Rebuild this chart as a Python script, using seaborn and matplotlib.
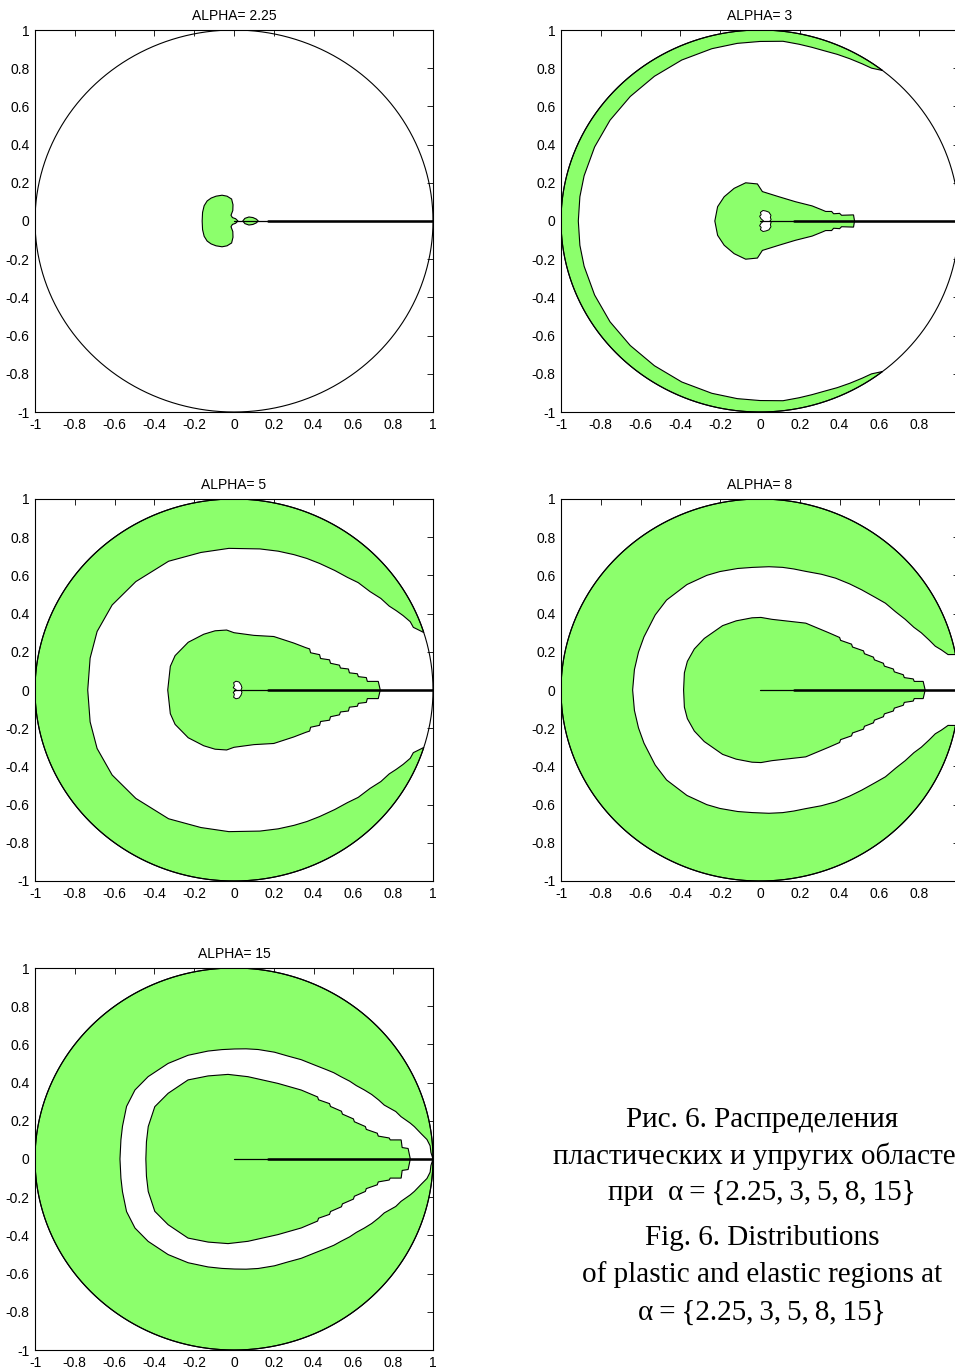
import numpy as np
import matplotlib
matplotlib.use("Agg")
import matplotlib.pyplot as plt
import seaborn as sns

# ---------------- data ----------------
ALPHAS = ["2.25", "3", "5", "8", "15"]
TICK_VALUES = [-1, -0.8, -0.6, -0.4, -0.2, 0, 0.2, 0.4, 0.6, 0.8, 1]
TICK_LABELS = ["-1", "-0.8", "-0.6", "-0.4", "-0.2", "0", "0.2", "0.4", "0.6", "0.8", "1"]

# outer plastic ring: inner boundary in polar form (deg, radius), upper half
RING3_ANG = [52, 55, 58, 62, 66, 70, 74, 78, 83, 90, 97, 105, 115, 125, 135, 145, 155, 165, 172, 180]
RING3_RAD = [1.0, 0.977, 0.970, 0.962, 0.955, 0.948, 0.946, 0.946, 0.948, 0.940, 0.937, 0.934, 0.930, 0.925, 0.922, 0.920, 0.917, 0.915, 0.914, 0.913]
RING5_ANG = [17.5, 19, 20, 22, 24.6, 27, 29.4, 33, 37, 42, 46, 51, 57, 62, 67, 73, 80, 92, 103, 116, 131, 144, 156, 167, 180]
RING5_RAD = [1.0, 0.975, 0.959, 0.955, 0.935, 0.915, 0.895, 0.880, 0.856, 0.840, 0.820, 0.805, 0.790, 0.780, 0.770, 0.760, 0.750, 0.742, 0.739, 0.750, 0.752, 0.757, 0.753, 0.742, 0.735]
RING8_ANG = [10.7, 11.1, 13, 14.6, 17, 20.3, 23, 26.9, 31, 35.8, 40, 45.8, 51, 57, 63, 69.8, 75, 80, 86, 93.4, 100, 108, 114, 123.6, 134.9, 143.3, 154.5, 162, 170.4, 180]
RING8_RAD = [1.0, 0.963, 0.935, 0.910, 0.890, 0.864, 0.840, 0.818, 0.795, 0.777, 0.755, 0.732, 0.715, 0.698, 0.680, 0.662, 0.656, 0.652, 0.647, 0.643, 0.646, 0.652, 0.657, 0.663, 0.665, 0.657, 0.646, 0.642, 0.640, 0.640]
RING15_ANG = [0, 2, 4, 6, 8, 10.6, 12, 14.8, 17, 20.5, 23, 26, 28.9, 32, 35, 38.7, 42, 45, 50.6, 57, 63.4, 70, 78, 84, 89.7, 96, 103, 113, 123.5, 135, 144, 153, 163, 170, 180]
RING15_RAD = [1.0, 0.99, 0.988, 0.975, 0.95, 0.922, 0.905, 0.868, 0.85, 0.806, 0.79, 0.77, 0.748, 0.725, 0.71, 0.689, 0.675, 0.66, 0.637, 0.62, 0.603, 0.595, 0.586, 0.58, 0.576, 0.576, 0.58, 0.59, 0.60, 0.61, 0.615, 0.606, 0.586, 0.577, 0.573]

# inner plastic cores (upper half, x / y)
CORE225_X = [-0.160, -0.158, -0.150, -0.135, -0.115, -0.090, -0.060, -0.035, -0.012, -0.005, -0.006, -0.015, -0.008, 0.008, 0.020]
CORE225_Y = [0.000, 0.045, 0.080, 0.105, 0.120, 0.130, 0.135, 0.130, 0.115, 0.085, 0.055, 0.030, 0.018, 0.012, 0.000]
TIP225_X = [0.044, 0.055, 0.075, 0.095, 0.112, 0.122]
TIP225_Y = [0.000, 0.014, 0.021, 0.018, 0.010, 0.000]
CORE3_X = [-0.227, -0.213, -0.180, -0.130, -0.072, -0.013, 0.012, 0.095, 0.178, 0.262, 0.312, 0.330, 0.360, 0.370, 0.400, 0.410, 0.470, 0.475]
CORE3_Y = [0.000, 0.075, 0.127, 0.171, 0.200, 0.194, 0.154, 0.127, 0.101, 0.079, 0.058, 0.050, 0.050, 0.038, 0.040, 0.030, 0.032, 0.000]
CORE5_X = [-0.333, -0.320, -0.296, -0.230, -0.152, -0.095, -0.037, 0.000, 0.100, 0.200, 0.300, 0.360, 0.380, 0.385, 0.430, 0.435, 0.480, 0.485, 0.530, 0.535, 0.575, 0.580, 0.620, 0.625, 0.665, 0.670, 0.725, 0.735]
CORE5_Y = [0.000, 0.124, 0.180, 0.250, 0.292, 0.310, 0.314, 0.300, 0.286, 0.280, 0.246, 0.222, 0.215, 0.195, 0.185, 0.165, 0.158, 0.140, 0.130, 0.115, 0.110, 0.090, 0.085, 0.070, 0.065, 0.045, 0.045, 0.000]
CORE8_X = [-0.384, -0.380, -0.365, -0.330, -0.280, -0.188, -0.120, -0.040, 0.005, 0.060, 0.230, 0.345, 0.400, 0.405, 0.460, 0.465, 0.520, 0.525, 0.570, 0.575, 0.620, 0.625, 0.670, 0.675, 0.720, 0.725, 0.770, 0.775, 0.820, 0.830]
CORE8_Y = [0.000, 0.090, 0.150, 0.215, 0.270, 0.337, 0.362, 0.378, 0.380, 0.370, 0.350, 0.300, 0.275, 0.260, 0.240, 0.225, 0.205, 0.190, 0.172, 0.158, 0.140, 0.125, 0.110, 0.095, 0.080, 0.065, 0.058, 0.045, 0.045, 0.000]
CORE15_X = [-0.443, -0.440, -0.431, -0.398, -0.331, -0.231, -0.130, -0.030, 0.070, 0.220, 0.338, 0.420, 0.425, 0.480, 0.485, 0.540, 0.545, 0.600, 0.605, 0.660, 0.665, 0.720, 0.725, 0.780, 0.785, 0.840, 0.845, 0.875, 0.886]
CORE15_Y = [0.000, 0.090, 0.170, 0.274, 0.344, 0.414, 0.435, 0.443, 0.431, 0.396, 0.361, 0.325, 0.310, 0.290, 0.275, 0.250, 0.235, 0.210, 0.195, 0.170, 0.155, 0.135, 0.120, 0.110, 0.100, 0.100, 0.060, 0.055, 0.000]

# small elastic holes near the crack tip (upper half)
HOLE3_X = [0.018, 0.005, -0.002, 0.006, 0.002, 0.015, 0.030, 0.045, 0.055, 0.052, 0.056, 0.050]
HOLE3_Y = [0.000, 0.012, 0.025, 0.033, 0.045, 0.055, 0.052, 0.046, 0.030, 0.018, 0.008, 0.000]
HOLE5_X = [0.012, -0.004, 0.002, -0.002, 0.010, 0.025, 0.035, 0.040, 0.035]
HOLE5_Y = [0.000, 0.012, 0.022, 0.038, 0.046, 0.042, 0.028, 0.012, 0.000]

CRACK_THIN = [0.0, 1.0]
CRACK_THICK = [0.17, 1.0]

CAPTION = ["Рис. 6. Распределения",
           "пластических и упругих областей",
           "при  α\u2009=\u2009{2.25,\u20093,\u20095,\u20098,\u200915}",
           "Fig. 6. Distributions",
           "of plastic and elastic regions at",
           "α\u2009=\u2009{2.25,\u20093,\u20095,\u20098,\u200915}"]

GREEN = "#8cff6c"

# ---------------- helpers ----------------
def mirror(x, y):
    x = np.asarray(x, float); y = np.asarray(y, float)
    return np.concatenate([x, x[::-1]]), np.concatenate([y, -y[::-1]])


def ring_polygon(ang, rad):
    th = np.deg2rad(np.asarray(ang, float)); r = np.asarray(rad, float)
    xu, yu = r * np.cos(th), r * np.sin(th)
    phi = np.linspace(th[0], 2 * np.pi - th[0], 500)
    xs = np.concatenate([xu[::-1], np.cos(phi), xu])
    ys = np.concatenate([yu[::-1], np.sin(phi), -yu])
    return xs, ys


PANELS = [
    dict(ring=None, cores=[(CORE225_X, CORE225_Y), (TIP225_X, TIP225_Y)], holes=[]),
    dict(ring=(RING3_ANG, RING3_RAD), cores=[(CORE3_X, CORE3_Y)], holes=[(HOLE3_X, HOLE3_Y)]),
    dict(ring=(RING5_ANG, RING5_RAD), cores=[(CORE5_X, CORE5_Y)], holes=[(HOLE5_X, HOLE5_Y)]),
    dict(ring=(RING8_ANG, RING8_RAD), cores=[(CORE8_X, CORE8_Y)], holes=[]),
    dict(ring=(RING15_ANG, RING15_RAD), cores=[(CORE15_X, CORE15_Y)], holes=[]),
]

# ---------------- figure ----------------
sns.set_theme(style="white")
plt.rcParams["font.family"] = ["Liberation Sans", "DejaVu Sans"]

W, H = 955, 1368
fig = plt.figure(figsize=(W / 100, H / 100), dpi=100)
fig.patch.set_facecolor("white")
POS = [(35, 30), (561, 30), (35, 499), (561, 499), (35, 968)]
AW, AH = 398, 382

phi_c = np.linspace(0, 2 * np.pi, 721)
for i, (alpha, panel) in enumerate(zip(ALPHAS, PANELS)):
    l, t = POS[i]
    ax = fig.add_axes([l / W, 1 - (t + AH) / H, AW / W, AH / H])
    ax.set_facecolor("white")
    if panel["ring"] is not None:
        xs, ys = ring_polygon(*panel["ring"])
        ax.fill(xs, ys, facecolor=GREEN, edgecolor="black", linewidth=0.8, zorder=2)
    for cx, cy in panel["cores"]:
        xs, ys = mirror(cx, cy)
        ax.fill(xs, ys, facecolor=GREEN, edgecolor="black", linewidth=0.8, zorder=3)
    for hx, hy in panel["holes"]:
        xs, ys = mirror(hx, hy)
        ax.fill(xs, ys, facecolor="white", edgecolor="black", linewidth=0.7, zorder=4)
    sns.lineplot(x=np.cos(phi_c), y=np.sin(phi_c), sort=False, estimator=None,
                 color="black", linewidth=0.8, ax=ax, zorder=5)
    sns.lineplot(x=CRACK_THIN, y=[0, 0], sort=False, estimator=None,
                 color="black", linewidth=0.9, ax=ax, zorder=6)
    sns.lineplot(x=CRACK_THICK, y=[0, 0], sort=False, estimator=None,
                 color="black", linewidth=1.8, ax=ax, zorder=6)
    ax.set_xlim(-1, 1)
    ax.set_ylim(-1, 1)
    ax.set_xticks(TICK_VALUES)
    ax.set_xticklabels(TICK_LABELS)
    ax.set_yticks(TICK_VALUES)
    ax.set_yticklabels(TICK_LABELS)
    ax.tick_params(direction="in", length=4, width=0.6, color="black",
                   top=True, right=True, labelsize=10, pad=4, labelcolor="black")
    for sp in ax.spines.values():
        sp.set_visible(True)
        sp.set_color("black")
        sp.set_linewidth(0.8)
    ax.set_xlabel("")
    ax.set_ylabel("")
    ax.set_title(f"ALPHA= {alpha}", fontsize=10, pad=7, color="black")

cap_y = [1127, 1164, 1200, 1245, 1282, 1320]
for txt, yy in zip(CAPTION, cap_y):
    fig.text(762 / W, 1 - yy / H, txt, ha="center", va="baseline",
             family=["Liberation Serif", "DejaVu Serif"], fontsize=21, color="black")

fig.savefig("out.png", dpi=100, facecolor="white")
